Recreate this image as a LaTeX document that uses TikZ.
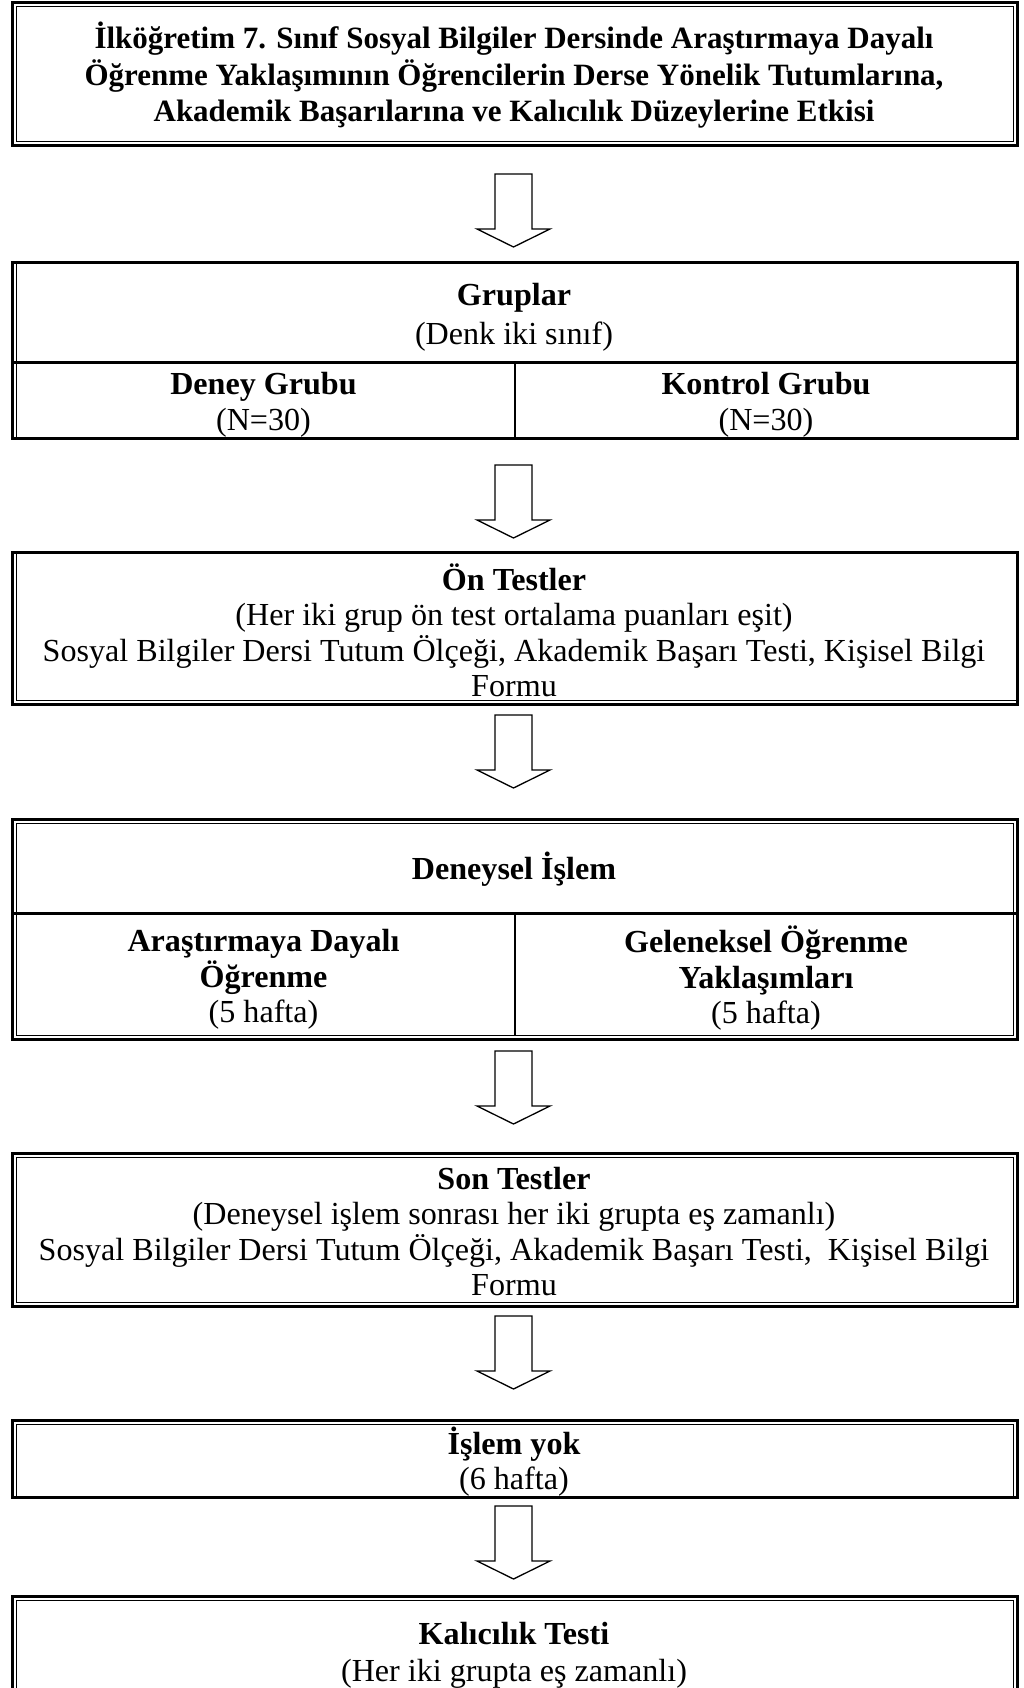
\documentclass[tikz,border=0pt]{standalone}
\usepackage{fontspec}
\setmainfont{Liberation Serif}
\usetikzlibrary{calc}

\begin{document}
% lines keep exactly their baseline skip
\lineskiplimit=-100pt
\lineskip=0pt
\begin{tikzpicture}[x=1pt,y=-1pt,
  frame/.style={draw, line width=3pt, inner sep=0pt, outer sep=0pt,
                minimum width=1005pt, rectangle},
  thinline/.style={line width=1pt},
  rule/.style={line width=3pt},
  colrule/.style={line width=2pt},
  txt/.style={align=center, inner sep=0pt,
              font=\fontsize{32.1}{35.5}\selectfont},
  blockarrow/.pic={
    \draw[line width=1.3pt, line join=miter]
      (-18.5,0) -- (18.5,0) -- (18.5,55) -- (36.5,55) -- (0,73)
      -- (-36.5,55) -- (-18.5,55) -- cycle;}
]
\useasboundingbox (0,0) rectangle (1024,1688);
\clip (0,0) rectangle (1024,1688);

% ---- frames ----
\node[frame, minimum height=143pt] (b1) at (514.5,74.5) {};
\node[frame, minimum height=175pt] (b2) at (514.5,350.5) {};
\node[frame, minimum height=152pt] (b3) at (514.5,628) {};
\node[frame, minimum height=220pt] (b4) at (514.5,929) {};
\node[frame, minimum height=153pt] (b5) at (514.5,1229.5) {};
\node[frame, minimum height=77pt]  (b6) at (514.5,1458.5) {};
\node[frame, minimum height=124pt] (b7) at (514.5,1658) {};

% ---- thin inner lines of the thick-thin borders ----
\draw[thinline] ($(b1.north west)+(4,4)$) rectangle ($(b1.south east)+(-4,-4)$);
\draw[thinline] ($(b2.north west)+(4,0)$) -- ($(b2.south west)+(4,0)$);
\draw[thinline] ($(b3.north west)+(4,0)$) -- ($(b3.south west)+(4,-4)$)
                -- ($(b3.south east)+(0,-4)$);
\draw[thinline] ($(b4.north west)+(4,4)$) rectangle ($(b4.south east)+(-4,-4)$);
\draw[thinline] ($(b5.north west)+(4,4)$) rectangle ($(b5.south east)+(-4,-4)$);
\draw[thinline] ($(b6.south west)+(4,0)$) -- ($(b6.north west)+(4,4)$)
                -- ($(b6.north east)+(-4,4)$) -- ($(b6.south east)+(-4,0)$);
\draw[thinline] ($(b7.south west)+(4,0)$) -- ($(b7.north west)+(4,4)$)
                -- ($(b7.north east)+(-4,4)$) -- ($(b7.south east)+(-4,0)$);

% ---- table rules inside the split boxes ----
\draw[rule] (b2.west |- 0,362) -- (b2.east |- 0,362);
\draw[colrule] (515,362) -- (515,0 |- b2.south);
\draw[rule] (b4.west |- 0,913) -- (b4.east |- 0,913);
\draw[colrule] (515,913) -- ($(515,0 |- b4.south)+(0,-4)$);

% ---- texts ----
\node[txt, font=\fontsize{31}{36.5}\selectfont\bfseries] (t1) at (514,75.5)
  {İlköğretim 7. Sınıf Sosyal Bilgiler Dersinde Araştırmaya Dayalı\\
   Öğrenme Yaklaşımının Öğrencilerin Derse Yönelik Tutumlarına,\\
   Akademik Başarılarına ve Kalıcılık Düzeylerine Etkisi};

\node[txt] (t2) at (514,318) {\strut\textbf{Gruplar}\\[3pt](Denk iki sınıf)\strut};
\node[txt] (t2a) at (263.5,405.5) {\strut\textbf{Deney Grubu}\\(N=30)\strut};
\node[txt] (t2b) at (766,405.5) {\strut\textbf{Kontrol Grubu}\\(N=30)\strut};

\node[txt] (t3) at (514,635.5)
  {\strut\textbf{Ön Testler}\\
   (Her iki grup ön test ortalama puanları eşit)\\
   Sosyal Bilgiler Dersi Tutum Ölçeği, Akademik Başarı Testi, Kişisel Bilgi\\
   Formu\strut};

\node[txt] (t4) at (514,871.5) {\strut\textbf{Deneysel İşlem}};
\node[txt] (t4a) at (263.5,980) {\strut\textbf{Araştırmaya Dayalı}\\\textbf{Öğrenme}\\(5 hafta)\strut};
\node[txt] (t4b) at (766,980) {\strut\textbf{Geleneksel Öğrenme}\\\textbf{Yaklaşımları}\\(5 hafta)\strut};

\node[txt] (t5) at (514,1235.5)
  {\strut\textbf{Son Testler}\\
   (Deneysel işlem sonrası her iki grupta eş zamanlı)\\
   Sosyal Bilgiler Dersi Tutum Ölçeği, Akademik Başarı Testi,\ \ Kişisel Bilgi\\
   Formu\strut};

\node[txt] (t6) at (514,1463.5) {\strut\textbf{İşlem yok}\\(6 hafta)\strut};

\node[txt] (t7) at (514,1656) {\strut\textbf{Kalıcılık Testi}\\[2pt](Her iki grupta eş zamanlı)\strut};

% ---- block arrows between the stages ----
\pic at ($(b1.south -| 513.5,0)+(0,28)$) {blockarrow};
\pic at ($(b2.south -| 513.5,0)+(0,27)$) {blockarrow};
\pic at ($(b3.south -| 513.5,0)+(0,11)$) {blockarrow};
\pic at ($(b4.south -| 513.5,0)+(0,12)$) {blockarrow};
\pic at ($(b5.south -| 513.5,0)+(0,10)$) {blockarrow};
\pic at ($(b6.south -| 513.5,0)+(0,9)$) {blockarrow};
\end{tikzpicture}
\end{document}
